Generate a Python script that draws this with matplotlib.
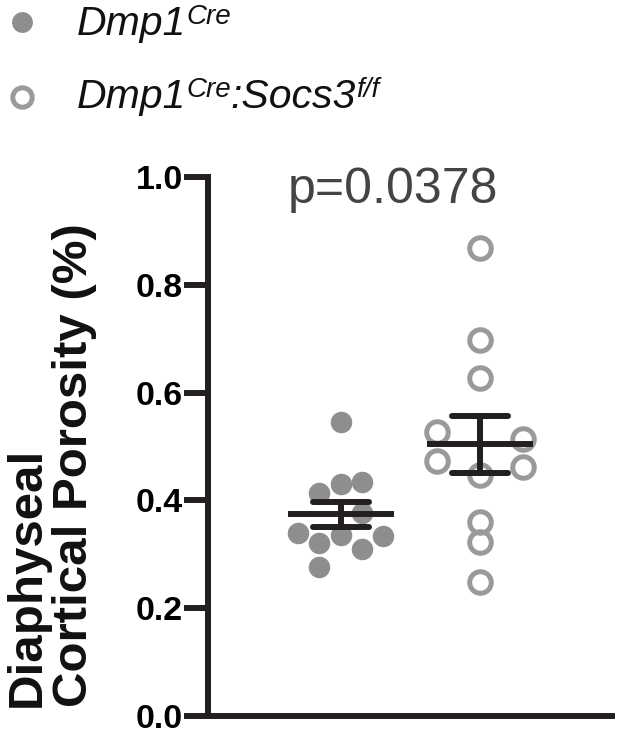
import numpy as np
import matplotlib.pyplot as plt
from matplotlib.lines import Line2D

plt.rcParams['font.family'] = ['Liberation Sans', 'DejaVu Sans']

# porosity values (%)
ctrl_vals = [0.545, 0.430, 0.434, 0.414, 0.377, 0.340, 0.321, 0.336, 0.334, 0.310, 0.276]
ctrl_jit = [0.0, 0.0, 0.15, -0.16, 0.15, -0.31, -0.16, 0.0, 0.30, 0.15, -0.16]
ko_vals = [0.868, 0.698, 0.627, 0.527, 0.514, 0.473, 0.462, 0.447, 0.360, 0.323, 0.249]
ko_jit = [0.0, 0.0, 0.0, -0.31, 0.31, -0.31, 0.31, 0.0, 0.0, 0.0, 0.0]
group_pos = [1, 2]
p_text = 'p=0.0378'
yticks = [0.0, 0.2, 0.4, 0.6, 0.8, 1.0]

fill_col = '#8e8e90'
ring_col = '#9a9a9a'
dark = '#231f20'

fig = plt.figure(figsize=(6.17, 7.46), dpi=100)
ax = fig.add_axes([208 / 617, 30 / 746, 404 / 617, 539 / 746])

# points
ax.plot(np.array(ctrl_jit) + group_pos[0], ctrl_vals, 'o', ms=15.5, mfc=fill_col,
        mec='none', zorder=2, clip_on=False)
ax.plot(np.array(ko_jit) + group_pos[1], ko_vals, 'o', ms=15.5, mfc='none',
        mec=ring_col, mew=3.6, zorder=2, clip_on=False)

# mean +/- SEM
for pos, vals in zip(group_pos, [ctrl_vals, ko_vals]):
    v = np.array(vals)
    m = v.mean()
    sem = v.std(ddof=1) / np.sqrt(len(v))
    ax.plot([pos - 0.38, pos + 0.38], [m, m], color=dark, lw=4.3, zorder=3,
            solid_capstyle='butt')
    ax.plot([pos, pos], [m - sem, m + sem], color=dark, lw=4.3, zorder=3)
    for y in (m - sem, m + sem):
        ax.plot([pos - 0.2, pos + 0.2], [y, y], color=dark, lw=4.3, zorder=3,
                solid_capstyle='round')

ax.set_xlim(0.043, 2.95)
ax.set_ylim(0, 1.0)
ax.set_yticks(yticks)
ax.set_yticklabels(['%.1f' % t for t in yticks], fontsize=24.5, fontweight='bold')
ax.set_xticks([])
for s in ['top', 'right']:
    ax.spines[s].set_visible(False)
for s in ['left', 'bottom']:
    ax.spines[s].set_linewidth(4.3)
    ax.spines[s].set_color(dark)
ax.tick_params(axis='y', length=17, width=4.3, color=dark, pad=1)

# y label
fig.text(5 / 617, 39 / 746, 'Diaphyseal\nCortical Porosity (%)', rotation=90,
         ha='left', va='bottom', multialignment='left', fontsize=35.5,
         fontweight='bold', linespacing=1.05, color='#111111')

# p-value
fig.text(393 / 617, (746 - 203) / 746, p_text, ha='center', va='baseline',
         fontsize=36, color='#444444')

# legend
fig.add_artist(Line2D([22 / 617], [1 - 22 / 746], marker='o', ms=15, mfc=fill_col,
                      mec='none', transform=fig.transFigure))
fig.add_artist(Line2D([22 / 617], [1 - 97 / 746], marker='o', ms=14, mfc='none',
                      mec=ring_col, mew=3.6, transform=fig.transFigure))

renderer = fig.canvas.get_renderer()


def rich(x_px, base_px, pieces):
    x = x_px
    for txt, size, rise in pieces:
        t = fig.text(x / 617, (746 - base_px + rise) / 746, txt, fontsize=size,
                     style='italic', va='baseline', ha='left', color='#111111')
        x += t.get_window_extent(renderer).width


rich(77, 35, [('Dmp1', 29.5, 0), ('Cre', 20, 11)])
rich(77, 108, [('Dmp1', 29.5, 0), ('Cre', 20, 11), (':Socs3', 29.5, 0), ('f/f', 20, 11)])

fig.savefig('out.png', dpi=100)
